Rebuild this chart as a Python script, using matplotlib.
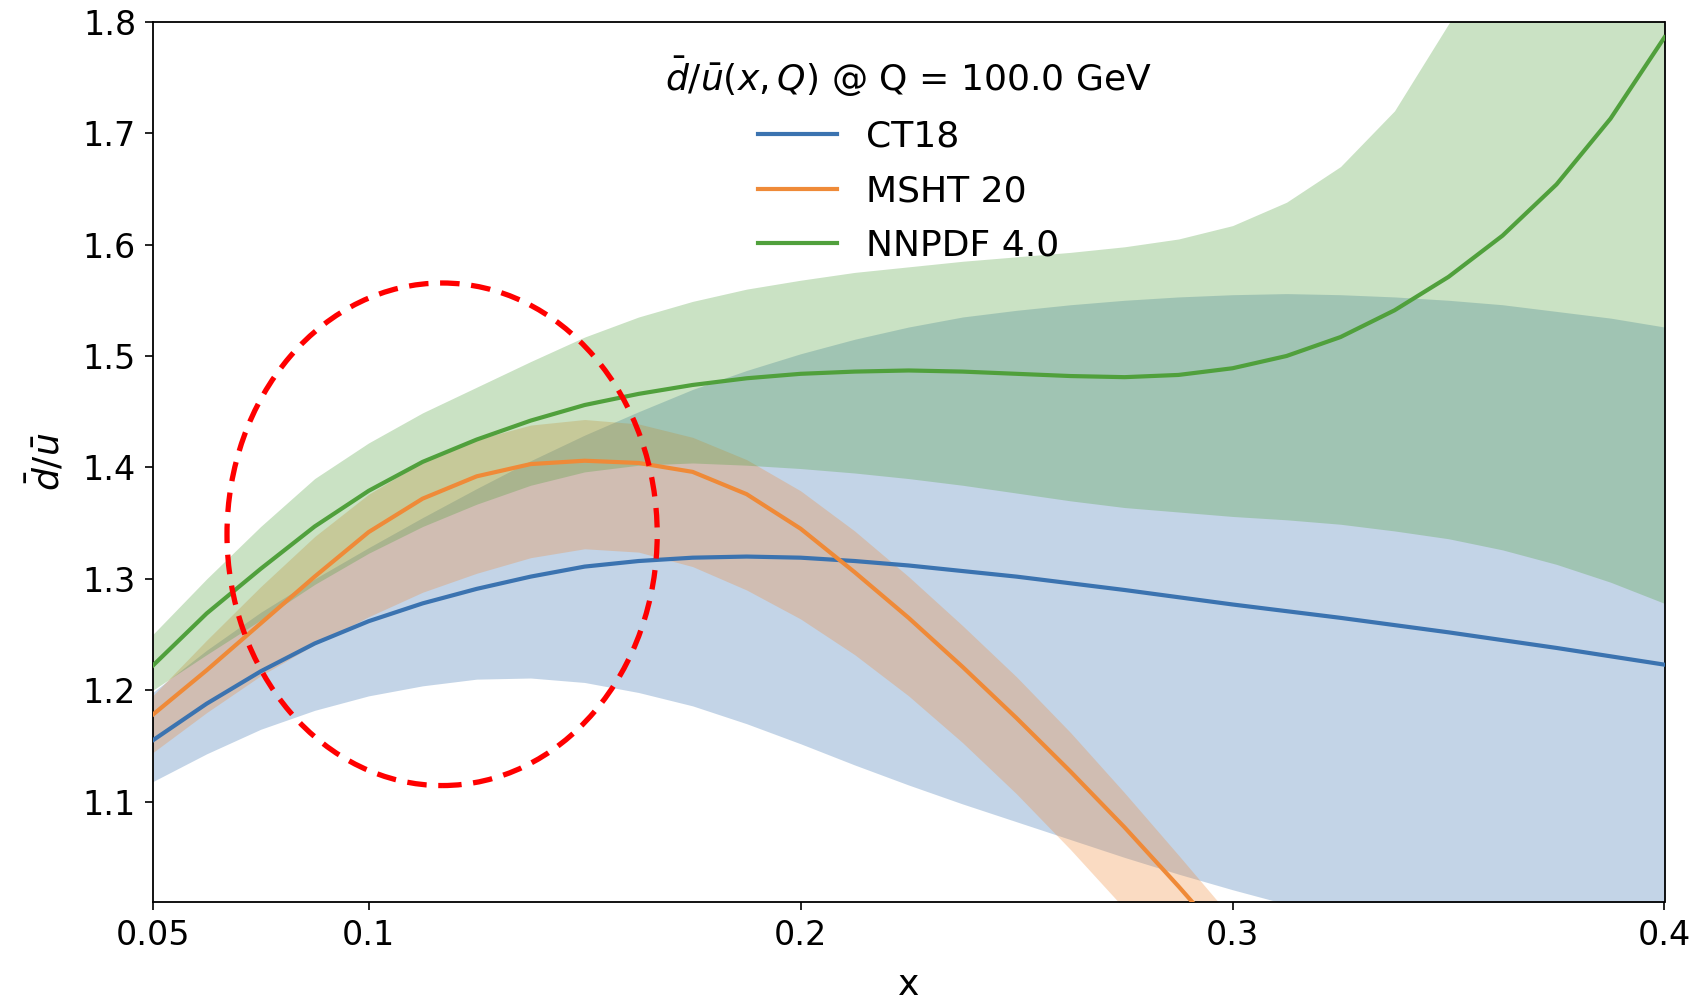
import numpy as np
import matplotlib
matplotlib.use("Agg")
import matplotlib.pyplot as plt
from matplotlib.patches import Ellipse

# ---------------- data ----------------
x = [0.05, 0.0625, 0.075, 0.0875, 0.1, 0.1125, 0.125, 0.1375, 0.15, 0.1625,
     0.175, 0.1875, 0.2, 0.2125, 0.225, 0.2375, 0.25, 0.2625, 0.275, 0.2875,
     0.3, 0.3125, 0.325, 0.3375, 0.35, 0.3625, 0.375, 0.3875, 0.4]

ct18_central = [1.155, 1.188, 1.217, 1.242, 1.262, 1.278, 1.291, 1.302, 1.311,
                1.316, 1.319, 1.320, 1.319, 1.316, 1.312, 1.307, 1.302, 1.296,
                1.290, 1.2835, 1.277, 1.271, 1.265, 1.2585, 1.252, 1.245,
                1.238, 1.2305, 1.223]
ct18_upper = [1.198, 1.236, 1.270, 1.300, 1.328, 1.355, 1.381, 1.406, 1.429,
              1.450, 1.470, 1.487, 1.502, 1.515, 1.526, 1.535, 1.541, 1.546,
              1.550, 1.553, 1.555, 1.556, 1.555, 1.553, 1.550, 1.546, 1.540,
              1.534, 1.526]
ct18_lower = [1.118, 1.143, 1.165, 1.182, 1.195, 1.204, 1.210, 1.211, 1.207,
              1.198, 1.186, 1.170, 1.152, 1.133, 1.115, 1.098, 1.082, 1.066,
              1.050, 1.035, 1.021, 1.008, 0.995, 0.982, 0.970, 0.960, 0.950,
              0.940, 0.930]

nan = np.nan
msht_central = [1.178, 1.218, 1.260, 1.302, 1.342, 1.372, 1.392, 1.403, 1.406,
                1.404, 1.396, 1.376, 1.345, 1.306, 1.265, 1.221, 1.175, 1.127,
                1.077, 1.024, 0.969, nan, nan, nan, nan, nan, nan, nan, nan]
msht_upper = [1.195, 1.245, 1.293, 1.338, 1.376, 1.405, 1.425, 1.438, 1.443,
              1.439, 1.427, 1.407, 1.379, 1.343, 1.302, 1.258, 1.212, 1.162,
              1.108, 1.052, 0.995, nan, nan, nan, nan, nan, nan, nan, nan]
msht_lower = [1.144, 1.180, 1.213, 1.241, 1.266, 1.288, 1.305, 1.319, 1.327,
              1.324, 1.311, 1.290, 1.264, 1.232, 1.195, 1.153, 1.107, 1.057,
              1.004, 0.948, 0.890, nan, nan, nan, nan, nan, nan, nan, nan]

nnpdf_central = [1.222, 1.269, 1.309, 1.347, 1.379, 1.405, 1.425, 1.442, 1.456,
                 1.466, 1.474, 1.480, 1.484, 1.486, 1.487, 1.486, 1.484, 1.482,
                 1.481, 1.483, 1.489, 1.500, 1.517, 1.541, 1.571, 1.608, 1.654,
                 1.713, 1.786]
nnpdf_upper = [1.250, 1.300, 1.347, 1.390, 1.422, 1.449, 1.472, 1.495, 1.517,
               1.535, 1.549, 1.560, 1.568, 1.575, 1.580, 1.585, 1.589, 1.593,
               1.598, 1.605, 1.617, 1.638, 1.670, 1.720, 1.798, 1.870, 1.940,
               2.010, 2.080]
nnpdf_lower = [1.200, 1.232, 1.263, 1.295, 1.323, 1.347, 1.367, 1.384, 1.396,
               1.402, 1.404, 1.402, 1.399, 1.395, 1.390, 1.384, 1.377, 1.370,
               1.364, 1.360, 1.356, 1.353, 1.349, 1.343, 1.336, 1.326, 1.313,
               1.297, 1.278]

labels = ["CT18", "MSHT 20", "NNPDF 4.0"]
colors = ["#3b73b0", "#ef8a38", "#50a03c"]

x_ticks = [0.05, 0.1, 0.2, 0.3, 0.4]
x_ticklabels = ["0.05", "0.1", "0.2", "0.3", "0.4"]
y_ticks = [1.1, 1.2, 1.3, 1.4, 1.5, 1.6, 1.7, 1.8]

ellipse_center = (0.117, 1.340)
ellipse_width = 0.0996
ellipse_height = 0.451

legend_title = r"$\bar{d}/\bar{u}(x,Q)$ @ Q = 100.0 GeV"

# ---------------- plot ----------------
fig = plt.figure(figsize=(16.98, 10.0), dpi=100)
ax = fig.add_axes([152.7 / 1698, 98 / 1000, 1511.8 / 1698, 880.3 / 1000])

series = [
    (ct18_central, ct18_lower, ct18_upper),
    (msht_central, msht_lower, msht_upper),
    (nnpdf_central, nnpdf_lower, nnpdf_upper),
]

xa = np.array(x)
for (c, lo, up), col in zip(series, colors):
    lo = np.array(lo, dtype=float)
    up = np.array(up, dtype=float)
    ok = ~np.isnan(lo)
    ax.fill_between(xa[ok], lo[ok], up[ok], color=col, alpha=0.3, lw=0, zorder=1)

for (c, lo, up), col, lab in zip(series, colors, labels):
    ax.plot(x, c, color=col, lw=3.0, label=lab, zorder=3,
            solid_joinstyle="round")

ell = Ellipse(ellipse_center, ellipse_width, ellipse_height, fill=False,
              edgecolor="red", lw=3.8, linestyle=(0, (3.7, 2.2)), zorder=4)
ax.add_patch(ell)

ax.set_xlim(0.05, 0.4)
ax.set_ylim(1.01, 1.8)
ax.set_xticks(x_ticks)
ax.set_xticklabels(x_ticklabels)
ax.set_yticks(y_ticks)
ax.tick_params(axis="both", labelsize=24, length=6, width=1.2, pad=6)
for sp in ax.spines.values():
    sp.set_linewidth(1.3)

ax.set_xlabel("x", fontsize=26)
ax.xaxis.set_label_coords(0.5, -0.075)
ax.xaxis.label.set_va("top")
ax.set_ylabel(r"$\bar{d}/\bar{u}$", fontsize=26)
ax.yaxis.set_label_coords(-0.057, 0.5)

leg = ax.legend(loc="upper center", frameon=False, fontsize=26,
                title=legend_title, title_fontsize=26,
                handlelength=2.2, borderaxespad=0.52, labelspacing=0.57)

fig.savefig("out.png", dpi=100)
